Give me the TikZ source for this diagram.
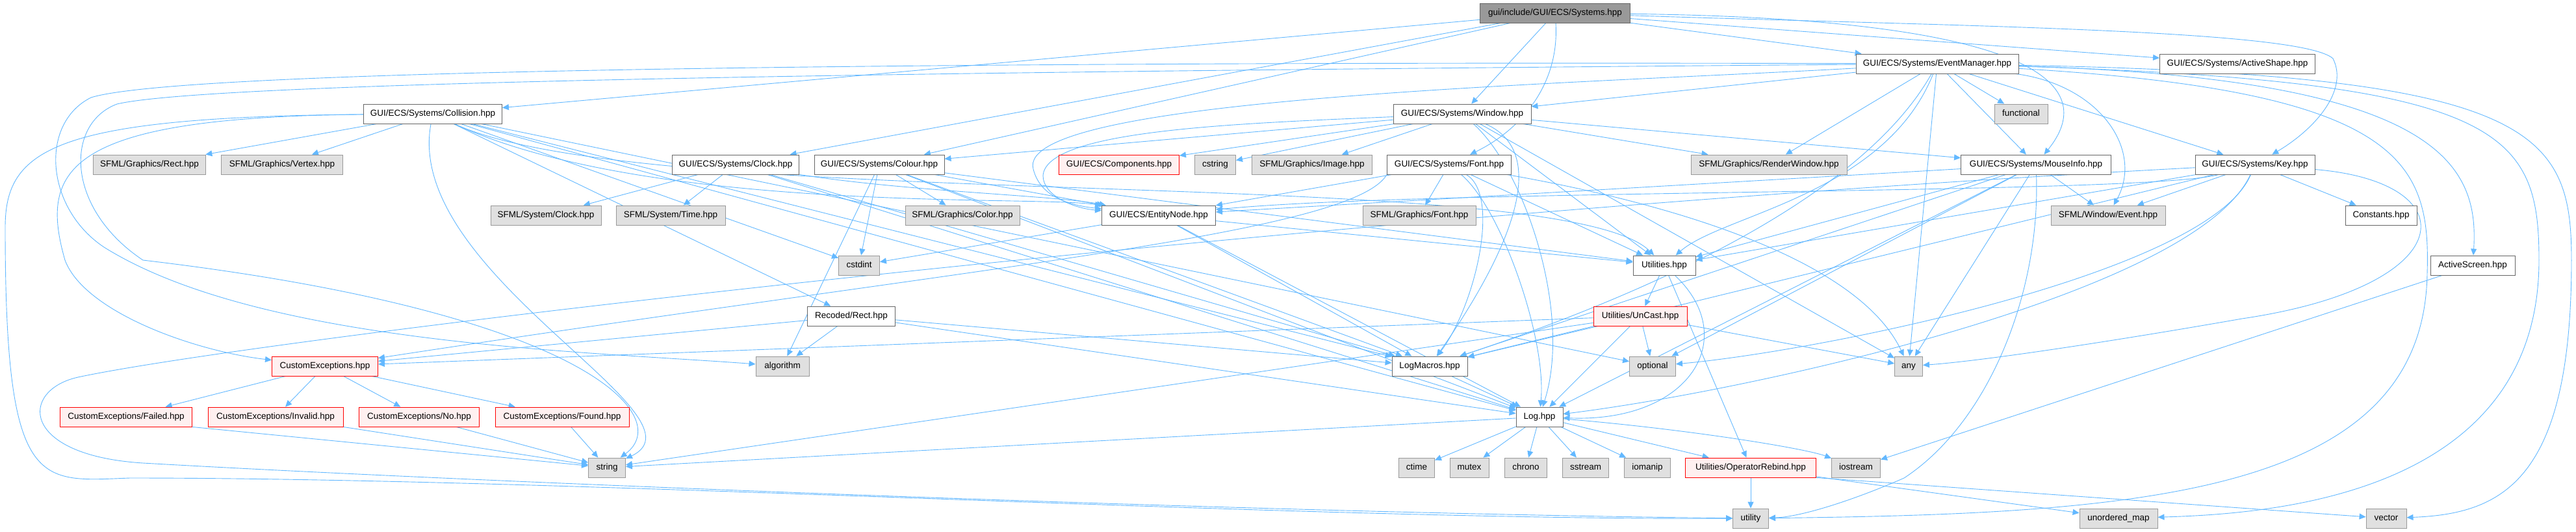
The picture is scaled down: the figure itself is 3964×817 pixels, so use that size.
\documentclass[tikz,border=0pt]{standalone}
\usepackage{fontspec}
\setmainfont{Liberation Sans}
\usetikzlibrary{arrows.meta,backgrounds}
\definecolor{incblue}{HTML}{63B8FF}
\definecolor{sysfill}{HTML}{E0E0E0}
\definecolor{sysline}{HTML}{999999}
\definecolor{fileline}{HTML}{666666}
\definecolor{truncfill}{HTML}{FFF0F0}

\begin{document}
\begin{tikzpicture}[x=1pt,y=-1pt,
  hfile/.style={draw=fileline,fill=white,line width=0.9pt,minimum height=30pt,
    inner xsep=2pt,inner ysep=0pt,text height=10pt,text depth=3pt,
    font=\fontsize{13.5}{16}\selectfont},
  sysh/.style={hfile,draw=sysline,fill=sysfill},
  trunch/.style={hfile,draw=red,fill=truncfill},
  rooth/.style={hfile,draw=fileline,fill=sysline},
  inc/.style={draw=incblue,line width=0.9pt,-{Triangle[length=10pt,width=9pt]}}]
\useasboundingbox (0,0) rectangle (3964,817);
% rows of headers, top to bottom
\node[rooth,minimum width=231pt] (sys) at (2393,20) {gui/include/GUI/ECS/Systems.hpp};
\node[hfile,minimum width=250pt] (evm) at (2981,98) {GUI/ECS/Systems/EventManager.hpp};
\node[hfile,minimum width=239pt] (ashape) at (3443,98) {GUI/ECS/Systems/ActiveShape.hpp};
\node[hfile,minimum width=213pt] (coll) at (666,175) {GUI/ECS/Systems/Collision.hpp};
\node[hfile,minimum width=212pt] (win) at (2250,175) {GUI/ECS/Systems/Window.hpp};
\node[sysh,minimum width=82pt] (func) at (3110,175) {functional};
\node[sysh,minimum width=173pt] (srect) at (230,253) {SFML/Graphics/Rect.hpp};
\node[sysh,minimum width=187pt] (svertex) at (434,253) {SFML/Graphics/Vertex.hpp};
\node[hfile,minimum width=195pt] (gclock) at (1132,253) {GUI/ECS/Systems/Clock.hpp};
\node[hfile,minimum width=200pt] (colour) at (1353,253) {GUI/ECS/Systems/Colour.hpp};
\node[trunch,minimum width=185pt] (comp) at (1722,253) {GUI/ECS/Components.hpp};
\node[sysh,minimum width=63pt] (cstring) at (1870,253) {cstring};
\node[sysh,minimum width=185pt] (simage) at (2019,253) {SFML/Graphics/Image.hpp};
\node[hfile,minimum width=191pt] (gfont) at (2230,253) {GUI/ECS/Systems/Font.hpp};
\node[sysh,minimum width=240pt] (rwin) at (2722,253) {SFML/Graphics/RenderWindow.hpp};
\node[hfile,minimum width=231pt] (mouse) at (3133,253) {GUI/ECS/Systems/MouseInfo.hpp};
\node[hfile,minimum width=184pt] (key) at (3470,253) {GUI/ECS/Systems/Key.hpp};
\node[sysh,minimum width=170pt] (sclock) at (840,331) {SFML/System/Clock.hpp};
\node[sysh,minimum width=168pt] (stime) at (1032,331) {SFML/System/Time.hpp};
\node[sysh,minimum width=176pt] (scolor) at (1481,331) {SFML/Graphics/Color.hpp};
\node[hfile,minimum width=175pt] (entity) at (1783,331) {GUI/ECS/EntityNode.hpp};
\node[sysh,minimum width=174pt] (sfont) at (2184,331) {SFML/Graphics/Font.hpp};
\node[sysh,minimum width=176pt] (event) at (3244,331) {SFML/Window/Event.hpp};
\node[hfile,minimum width=110pt] (consts) at (3664,331) {Constants.hpp};
\node[sysh,minimum width=63pt] (cstdint) at (1322,408) {cstdint};
\node[hfile,minimum width=96pt] (util) at (2561,408) {Utilities.hpp};
\node[hfile,minimum width=130pt] (ascreen) at (3805,408) {ActiveScreen.hpp};
\node[hfile,minimum width=135pt] (rrect) at (1310,486) {Recoded/Rect.hpp};
\node[trunch,minimum width=144pt] (uncast) at (2524,486) {Utilities/UnCast.hpp};
\node[trunch,minimum width=163pt] (cexc) at (500,563) {CustomExceptions.hpp};
\node[sysh,minimum width=82pt] (algo) at (1204,563) {algorithm};
\node[hfile,minimum width=116pt] (logm) at (2200,563) {LogMacros.hpp};
\node[sysh,minimum width=71pt] (optional) at (2543,563) {optional};
\node[sysh,minimum width=43pt] (any) at (2937,563) {any};
\node[trunch,minimum width=203pt] (failed) at (194,641) {CustomExceptions/Failed.hpp};
\node[trunch,minimum width=208pt] (invalid) at (424,641) {CustomExceptions/Invalid.hpp};
\node[trunch,minimum width=185pt] (nofile) at (645,641) {CustomExceptions/No.hpp};
\node[trunch,minimum width=206pt] (found) at (865,641) {CustomExceptions/Found.hpp};
\node[hfile,minimum width=72pt] (log) at (2369,641) {Log.hpp};
\node[sysh,minimum width=57pt] (string) at (934,719) {string};
\node[sysh,minimum width=55pt] (ctime) at (2180,719) {ctime};
\node[sysh,minimum width=60pt] (mutex) at (2261,719) {mutex};
\node[sysh,minimum width=65pt] (chrono) at (2348,719) {chrono};
\node[sysh,minimum width=71pt] (sstream) at (2440,719) {sstream};
\node[sysh,minimum width=71pt] (iomanip) at (2535,719) {iomanip};
\node[trunch,minimum width=201pt] (oprebind) at (2694,719) {Utilities/OperatorRebind.hpp};
\node[sysh,minimum width=75pt] (iostream) at (2856,719) {iostream};
\node[sysh,minimum width=55pt] (utility) at (2694,797) {utility};
\node[sysh,minimum width=120pt] (umap) at (3260,797) {unordered\_map};
\node[sysh,minimum width=62pt] (vector) at (3672,797) {vector};

\begin{scope}[on background layer,every edge/.style={inc}]
% Systems.hpp
\path (sys) edge (coll) edge (gclock) edge (colour) edge (win) edge (evm) edge (ashape);
\draw[inc] (sys) .. controls (2400,130) and (2340,200) .. (gfont);
\draw[inc] (sys) .. controls (3250,30) and (3200,170) .. (mouse);
\draw[inc] (sys) .. controls (3000,40) and (3540,45) .. (3590,90) .. controls (3615,140) and (3560,200) .. (key);
% EventManager.hpp
\path (evm) edge (win) edge (rwin) edge (func) edge (mouse) edge (key) edge (any);
\draw[inc] (evm) .. controls (3230,130) and (3300,230) .. (event);
\draw[inc] (evm) .. controls (2900,300) and (2650,330) .. (util);
\draw[inc] (evm) .. controls (2850,330) and (2450,480) .. (logm);
\draw[inc] (evm) .. controls (3750,120) and (3815,250) .. (ascreen);
\draw[inc] (evm) .. controls (3850,125) and (3907,200) .. (3907,400) .. controls (3907,760) and (3500,790) .. (umap);
\draw[inc] (evm) .. controls (3900,115) and (3957,200) .. (3957,400) .. controls (3957,740) and (3850,790) .. (vector);
\draw[inc] (evm) .. controls (3700,140) and (3740,250) .. (3735,420) .. controls (3730,760) and (3300,790) .. (utility);
\draw[inc] (evm) .. controls (2400,130) and (1560,150) .. (1590,260) .. controls (1600,300) and (1640,315) .. (entity);
\draw[inc] (evm) .. controls (1800,95) and (300,100) .. (140,150) .. controls (60,190) and (70,320) .. (160,380) .. controls (400,530) and (900,540) .. (algo);
\draw[inc] (evm) .. controls (1800,108) and (350,120) .. (180,160) .. controls (100,190) and (100,320) .. (220,400) .. controls (900,480) and (1040,640) .. (string);
% Window.hpp
\path (win) edge (colour) edge (comp) edge (cstring) edge (simage) edge (rwin) edge (mouse) edge (util) edge (any);
\draw[inc] (win) .. controls (2400,240) and (2300,420) .. (logm);
\draw[inc] (win) .. controls (2345,260) and (2420,480) .. (log);
\draw[inc] (win) .. controls (1900,190) and (1610,200) .. (1605,270) .. controls (1605,300) and (1650,320) .. (entity);
% Font.hpp
\path (gfont) edge (sfont) edge (entity) edge (util);
\draw[inc] (gfont) .. controls (2310,300) and (2270,470) .. (logm);
\draw[inc] (gfont) .. controls (2310,320) and (2380,520) .. (log);
\draw[inc] (gfont) .. controls (2500,300) and (2850,380) .. (any);
\draw[inc] (gfont.south west) .. controls (2080,360) and (1500,410) .. (cexc);
% Clock.hpp and Colour.hpp
\path (gclock) edge (sclock) edge (stime) edge (logm) edge (log);
\draw[inc] (gclock) .. controls (1400,295) and (1620,300) .. (entity);
\path (colour) edge (scolor) edge (entity) edge (cstdint) edge (algo) edge (logm) edge (log) edge (util);
% Collision.hpp
\path (coll) edge (srect) edge (svertex) edge (cstdint) edge (rrect) edge (logm) edge (log) edge (optional);
\draw[inc] (coll) .. controls (1000,330) and (1600,300) .. (entity);
\draw[inc] (coll) .. controls (1000,330) and (2400,250) .. (util);
\draw[inc] (coll) .. controls (620,420) and (1100,640) .. (string);
\draw[inc] (coll) .. controls (100,180) and (60,260) .. (100,400) .. controls (130,480) and (300,540) .. (cexc);
\draw[inc] (coll) .. controls (80,180) and (8,230) .. (8,350) .. controls (8,760) and (60,740) .. (200,735) .. controls (900,735) and (2000,800) .. (utility);
% MouseInfo.hpp and Key.hpp
\path (mouse) edge (event) edge (entity) edge (util) edge (logm) edge (log) edge (any) edge (optional);
\draw[inc] (mouse) .. controls (3140,450) and (3060,650) .. (2930,735) .. controls (2850,770) and (2770,795) .. (utility);
\path (key) edge (event) edge (consts) edge (util) edge (logm);
\draw[inc] (key) .. controls (3300,300) and (2200,290) .. (entity);
\draw[inc] (key) .. controls (3400,420) and (2800,540) .. (optional);
\draw[inc] (key) .. controls (3380,450) and (2700,600) .. (log);
\draw[inc] (key) .. controls (3800,280) and (3790,440) .. (3450,490) .. controls (3250,525) and (3050,555) .. (any);
\draw[inc] (key) .. controls (2000,330) and (400,520) .. (120,580) .. controls (30,600) and (30,700) .. (220,712) .. controls (800,745) and (2000,790) .. (utility);
% lower headers
\path (entity) edge (cstdint) edge (util) edge (logm) edge (log);
\path (util) edge (uncast) edge (oprebind);
\draw[inc] (util) .. controls (2680,520) and (2600,650) .. (log);
\path (uncast) edge (cexc) edge (logm) edge (log) edge (optional) edge (any) edge (string);
\path (rrect) edge (cexc) edge (algo) edge (logm) edge (log);
\path (cexc) edge (failed) edge (invalid) edge (nofile) edge (found);
\path (failed.south east) edge (string);
\path (invalid.south east) edge (string);
\path (nofile) edge (string) (found) edge (string);
\path (logm) edge (log);
\path (log) edge (ctime) edge (mutex) edge (chrono) edge (sstream) edge (iomanip) edge (oprebind) edge (string);
\draw[inc] (log) .. controls (2600,660) and (2780,690) .. (iostream);
\path (oprebind) edge (utility) edge (umap);
\path (oprebind.south east) edge (vector);
\path (ascreen) edge (iostream);
\end{scope}
\end{tikzpicture}
\end{document}
